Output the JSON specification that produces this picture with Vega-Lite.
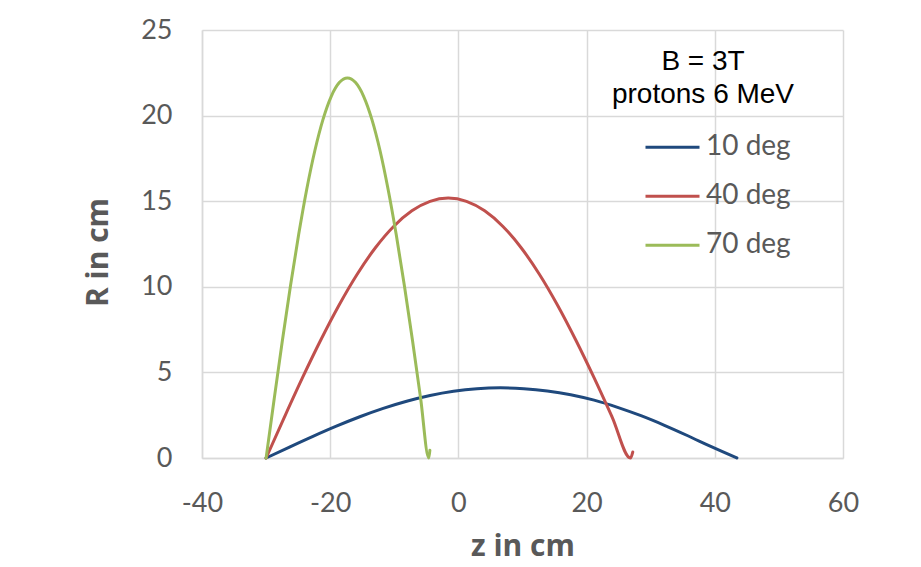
{
  "$schema": "https://vega.github.io/schema/vega-lite/v6.json",
  "width": 641,
  "height": 428,
  "autosize": {"type": "none"},
  "padding": {"left": 202, "top": 30, "right": 78, "bottom": 109},
  "background": "white",
  "config": {
    "view": {"stroke": null},
    "axis": {
      "gridColor": "#D9D9D9",
      "gridWidth": 1.5,
      "domainColor": "#D9D9D9",
      "domainWidth": 1.5,
      "ticks": false,
      "labelFont": "Lato",
      "labelFontSize": 27,
      "labelColor": "#595959",
      "labelFlush": false,
      "labelOverlap": false,
      "labelExpr": "'' + datum.value",
      "titleFont": "Open Sans",
      "titleFontSize": 30,
      "titleFontWeight": "bold",
      "titleColor": "#595959"
    }
  },
  "data": {
    "values": [
      {"angle": "10 deg", "z": -30, "R": 0},
      {"angle": "10 deg", "z": -26.35, "R": 0.641},
      {"angle": "10 deg", "z": -22.69, "R": 1.267},
      {"angle": "10 deg", "z": -19.04, "R": 1.861},
      {"angle": "10 deg", "z": -15.38, "R": 2.41},
      {"angle": "10 deg", "z": -11.73, "R": 2.899},
      {"angle": "10 deg", "z": -8.07, "R": 3.317},
      {"angle": "10 deg", "z": -4.42, "R": 3.653},
      {"angle": "10 deg", "z": -0.76, "R": 3.9},
      {"angle": "10 deg", "z": 2.9, "R": 4.05},
      {"angle": "10 deg", "z": 6.55, "R": 4.1},
      {"angle": "10 deg", "z": 10.21, "R": 4.05},
      {"angle": "10 deg", "z": 13.86, "R": 3.92},
      {"angle": "10 deg", "z": 17.52, "R": 3.7},
      {"angle": "10 deg", "z": 21.17, "R": 3.38},
      {"angle": "10 deg", "z": 24.83, "R": 2.96},
      {"angle": "10 deg", "z": 28.48, "R": 2.47},
      {"angle": "10 deg", "z": 32.14, "R": 1.91},
      {"angle": "10 deg", "z": 35.79, "R": 1.3},
      {"angle": "10 deg", "z": 39.45, "R": 0.66},
      {"angle": "10 deg", "z": 43.45, "R": 0},
      {"angle": "40 deg", "z": -30, "R": 0},
      {"angle": "40 deg", "z": -27.16, "R": 2.374},
      {"angle": "40 deg", "z": -24.32, "R": 4.691},
      {"angle": "40 deg", "z": -21.47, "R": 6.892},
      {"angle": "40 deg", "z": -18.63, "R": 8.923},
      {"angle": "40 deg", "z": -15.79, "R": 10.734},
      {"angle": "40 deg", "z": -12.95, "R": 12.281},
      {"angle": "40 deg", "z": -10.11, "R": 13.525},
      {"angle": "40 deg", "z": -7.26, "R": 14.438},
      {"angle": "40 deg", "z": -4.42, "R": 14.993},
      {"angle": "40 deg", "z": -1.58, "R": 15.18},
      {"angle": "40 deg", "z": 1.26, "R": 14.993},
      {"angle": "40 deg", "z": 4.1, "R": 14.438},
      {"angle": "40 deg", "z": 6.95, "R": 13.525},
      {"angle": "40 deg", "z": 9.79, "R": 12.281},
      {"angle": "40 deg", "z": 12.63, "R": 10.734},
      {"angle": "40 deg", "z": 15.47, "R": 8.923},
      {"angle": "40 deg", "z": 18.31, "R": 6.892},
      {"angle": "40 deg", "z": 21.16, "R": 4.691},
      {"angle": "40 deg", "z": 24.0, "R": 2.374},
      {"angle": "40 deg", "z": 26.84, "R": 0},
      {"angle": "40 deg", "z": 27.2, "R": 0.35},
      {"angle": "70 deg", "z": -30, "R": 0},
      {"angle": "70 deg", "z": -28.73, "R": 3.472},
      {"angle": "70 deg", "z": -27.46, "R": 6.86},
      {"angle": "70 deg", "z": -26.19, "R": 10.079},
      {"angle": "70 deg", "z": -24.92, "R": 13.049},
      {"angle": "70 deg", "z": -23.66, "R": 15.698},
      {"angle": "70 deg", "z": -22.39, "R": 17.96},
      {"angle": "70 deg", "z": -21.12, "R": 19.78},
      {"angle": "70 deg", "z": -19.85, "R": 21.114},
      {"angle": "70 deg", "z": -18.58, "R": 21.927},
      {"angle": "70 deg", "z": -17.31, "R": 22.2},
      {"angle": "70 deg", "z": -16.04, "R": 21.927},
      {"angle": "70 deg", "z": -14.77, "R": 21.114},
      {"angle": "70 deg", "z": -13.5, "R": 19.78},
      {"angle": "70 deg", "z": -12.23, "R": 17.96},
      {"angle": "70 deg", "z": -10.97, "R": 15.698},
      {"angle": "70 deg", "z": -9.7, "R": 13.049},
      {"angle": "70 deg", "z": -8.43, "R": 10.079},
      {"angle": "70 deg", "z": -7.16, "R": 6.86},
      {"angle": "70 deg", "z": -5.89, "R": 3.472},
      {"angle": "70 deg", "z": -4.62, "R": 0},
      {"angle": "70 deg", "z": -4.45, "R": 0.45}
    ]
  },
  "mark": {"type": "line", "strokeWidth": 3, "interpolate": "monotone", "strokeCap": "round", "strokeJoin": "round"},
  "encoding": {
    "x": {
      "field": "z",
      "type": "quantitative",
      "scale": {"domain": [-40, 60], "nice": false, "zero": false},
      "axis": {
        "values": [-40, -20, 0, 20, 40, 60],
        "title": "z in cm",
        "labelBaseline": "alphabetic",
        "labelPadding": 53,
        "titleBaseline": "alphabetic",
        "titleY": 97
      }
    },
    "y": {
      "field": "R",
      "type": "quantitative",
      "scale": {"domain": [0, 25], "nice": false},
      "axis": {
        "values": [0, 5, 10, 15, 20, 25],
        "title": "R in cm",
        "labelBaseline": "middle",
        "labelPadding": 30,
        "titleAngle": -90,
        "titleBaseline": "alphabetic",
        "titleAlign": "center",
        "titleX": -95,
        "titleY": 222
      }
    },
    "color": {
      "field": "angle",
      "type": "nominal",
      "scale": {"domain": ["10 deg", "40 deg", "70 deg"], "range": ["#1F497D", "#C0504D", "#9BBB59"]},
      "legend": {
        "title": ["B = 3T", "protons 6 MeV"],
        "orient": "none",
        "legendX": 410,
        "legendY": 18,
        "titleFont": "Liberation Sans",
        "titleFontSize": 28,
        "titleFontWeight": "normal",
        "titleColor": "black",
        "titleAlign": "center",
        "titleAnchor": "middle",
        "titleLineHeight": 33,
        "titleLimit": 500,
        "titlePadding": 14,
        "labelFont": "Lato",
        "labelFontSize": 28,
        "labelColor": "#595959",
        "labelOffset": 5,
        "symbolType": "stroke",
        "symbolSize": 2916,
        "symbolStrokeWidth": 3,
        "symbolOffset": 29,
        "clipHeight": 48.5,
        "rowPadding": 0
      }
    }
  }
}
